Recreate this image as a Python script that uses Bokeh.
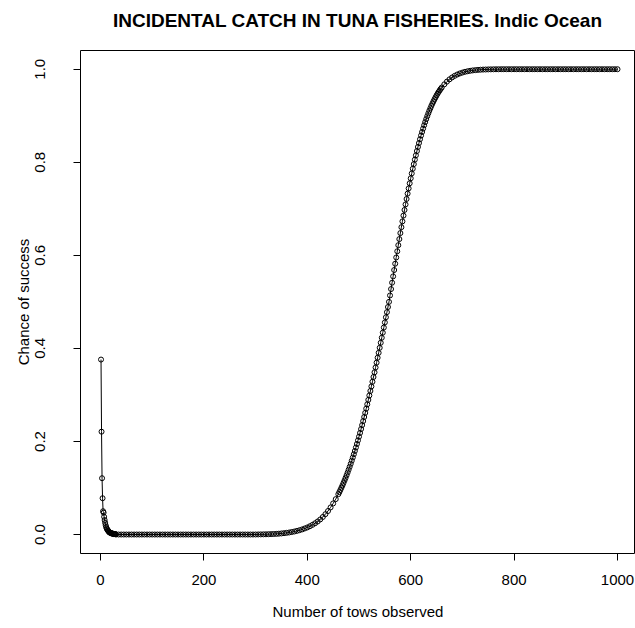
from bokeh.plotting import figure
from bokeh.models import Range1d, FixedTicker, LinearAxis
from bokeh.embed import file_html
from bokeh.resources import INLINE

# ---- data ----
tows_start = [1, 2, 3, 4, 5, 6, 7, 8, 9, 10, 11, 12, 13, 14, 15, 16, 17, 18, 19, 20,
              21, 22, 23, 24, 25, 26, 27, 28, 29, 30]
chance_start = [0.376, 0.221, 0.121, 0.078, 0.050, 0.047, 0.038, 0.031, 0.025, 0.020,
                0.016, 0.013, 0.011, 0.009, 0.008, 0.006, 0.005, 0.004, 0.004, 0.003,
                0.003, 0.002, 0.002, 0.002, 0.001, 0.001, 0.001, 0.001, 0.001, 0.0]

tows_flat = [35, 40, 45, 50, 55, 60, 65, 70, 75, 80, 85, 90, 95, 100, 105, 110, 115, 120,
             125, 130, 135, 140, 145, 150, 155, 160, 165, 170, 175, 180, 185, 190, 195, 200,
             205, 210, 215, 220, 225, 230, 235, 240, 245, 250, 255, 260, 265, 270, 275, 280,
             285, 290, 295, 300]
chance_flat = [0.0, 0.0, 0.0, 0.0, 0.0, 0.0, 0.0, 0.0, 0.0, 0.0, 0.0, 0.0, 0.0, 0.0, 0.0,
               0.0, 0.0, 0.0, 0.0, 0.0, 0.0, 0.0, 0.0, 0.0, 0.0, 0.0, 0.0, 0.0, 0.0, 0.0,
               0.0, 0.0, 0.0, 0.0, 0.0, 0.0, 0.0, 0.0, 0.0, 0.0, 0.0, 0.0, 0.0, 0.0, 0.0,
               0.0, 0.0, 0.0, 0.0, 0.0, 0.0, 0.0, 0.0, 0.0001]

tows_rise = [305, 310, 315, 320, 325, 330, 335, 340, 345, 350, 355, 360, 365, 370, 375,
             380, 385, 390, 395, 400, 405, 410, 415, 420, 425, 430, 435, 440, 445, 450, 455]
chance_rise = [0.0002, 0.0003, 0.0004, 0.0005, 0.0007, 0.0009, 0.0011, 0.0014, 0.0018,
               0.0023, 0.0029, 0.0036, 0.0044, 0.0054, 0.0065, 0.0078, 0.0093, 0.0110,
               0.0130, 0.0152, 0.0178, 0.0208, 0.0242, 0.0280, 0.0324, 0.0377, 0.0437,
               0.0505, 0.0582, 0.0668, 0.0760]

tows_steep = [460, 462, 464, 466, 468, 470, 472, 474, 476, 478, 480, 482, 484, 486, 488,
              490, 492, 494, 496, 498, 500, 502, 504, 506, 508, 510, 512, 514, 516, 518,
              520, 522, 524, 526, 528, 530, 532, 534, 536, 538, 540, 542, 544, 546, 548,
              550, 552, 554, 556, 558, 560, 562, 564, 566, 568, 570, 572, 574, 576, 578,
              580, 582, 584, 586, 588, 590, 592, 594, 596, 598, 600, 602, 604, 606, 608,
              610, 612, 614, 616, 618, 620, 622, 624, 626, 628, 630, 632, 634, 636, 638,
              640, 642, 644, 646, 648, 650, 652, 654, 656, 658, 660]
chance_steep = [0.0867, 0.0912, 0.0958, 0.1006, 0.1056, 0.1108, 0.1162, 0.1216, 0.1274,
                0.1333, 0.1394, 0.1456, 0.1520, 0.1587, 0.1655, 0.1725, 0.1796, 0.1870,
                0.1946, 0.2023, 0.2102, 0.2183, 0.2266, 0.2351, 0.2437, 0.2525, 0.2614,
                0.2706, 0.2798, 0.2893, 0.2988, 0.3085, 0.3183, 0.3283, 0.3385, 0.3486,
                0.3590, 0.3694, 0.3799, 0.3905, 0.4013, 0.4121, 0.4229, 0.4338, 0.4448,
                0.4558, 0.4669, 0.4779, 0.4889, 0.5000, 0.5138, 0.5275, 0.5412, 0.5548,
                0.5684, 0.5820, 0.5954, 0.6087, 0.6218, 0.6349, 0.6478, 0.6605, 0.6730,
                0.6854, 0.6975, 0.7094, 0.7211, 0.7326, 0.7438, 0.7548, 0.7655, 0.7760,
                0.7861, 0.7960, 0.8057, 0.8150, 0.8241, 0.8329, 0.8413, 0.8495, 0.8575,
                0.8651, 0.8724, 0.8795, 0.8863, 0.8928, 0.8990, 0.9050, 0.9107, 0.9161,
                0.9213, 0.9262, 0.9309, 0.9354, 0.9396, 0.9437, 0.9475, 0.9511, 0.9545,
                0.9577, 0.9607]

tows_top = [665, 670, 675, 680, 685, 690, 695, 700, 705, 710, 715, 720, 725, 730, 735,
            740, 745, 750, 755, 760, 765, 770, 775, 780, 785, 790, 795, 800, 805, 810,
            815, 820, 825, 830, 835, 840, 845, 850, 855, 860, 865, 870, 875, 880, 885,
            890, 895, 900, 905, 910, 915, 920, 925, 930, 935, 940, 945, 950, 955, 960,
            965, 970, 975, 980, 985, 990, 995, 1000]
chance_top = [0.9675, 0.9733, 0.9782, 0.9823, 0.9857, 0.9886, 0.9909, 0.9928, 0.9944,
              0.9956, 0.9966, 0.9974, 0.9980, 0.9985, 0.9989, 0.9992, 0.9994, 0.9996,
              0.9997, 0.9998, 0.9999, 0.9999, 1.0, 1.0, 1.0, 1.0, 1.0, 1.0, 1.0, 1.0,
              1.0, 1.0, 1.0, 1.0, 1.0, 1.0, 1.0, 1.0, 1.0, 1.0, 1.0, 1.0, 1.0, 1.0, 1.0,
              1.0, 1.0, 1.0, 1.0, 1.0, 1.0, 1.0, 1.0, 1.0, 1.0, 1.0, 1.0, 1.0, 1.0, 1.0,
              1.0, 1.0, 1.0, 1.0, 1.0, 1.0, 1.0, 1.0]

x_ticks = [0, 200, 400, 600, 800, 1000]
x_tick_labels = ["0", "200", "400", "600", "800", "1000"]
y_ticks = [0.0, 0.2, 0.4, 0.6, 0.8, 1.0]
y_tick_labels = ["0.0", "0.2", "0.4", "0.6", "0.8", "1.0"]

title_text = "INCIDENTAL CATCH IN TUNA FISHERIES. Indic Ocean"
x_label = "Number of tows observed"
y_label = "Chance of success"

tows = tows_start + tows_flat + tows_rise + tows_steep + tows_top
chance = chance_start + chance_flat + chance_rise + chance_steep + chance_top

FONT = "Liberation Sans"

p = figure(width=635, height=628, output_backend="svg", toolbar_location=None,
           x_range=Range1d(-38.7, 1034.8), y_range=Range1d(-0.0408, 1.0402),
           min_border_left=80, min_border_right=0, min_border_top=50,
           min_border_bottom=75)
p.background_fill_color = "white"
p.border_fill_color = "white"
p.outline_line_color = "black"
p.outline_line_width = 1
p.xgrid.visible = False
p.ygrid.visible = False
p.title.visible = False

bottom_axis = p.below[0]
left_axis = p.left[0]

for ax, ticks, labels in ((bottom_axis, x_ticks, x_tick_labels),
                          (left_axis, y_ticks, y_tick_labels)):
    ax.ticker = FixedTicker(ticks=ticks)
    ax.major_label_overrides = {t: l for t, l in zip(ticks, labels)}
    ax.minor_tick_line_color = None
    ax.axis_line_color = None
    ax.major_tick_in = 0
    ax.major_tick_out = 7
    ax.major_tick_line_color = "black"
    ax.major_label_text_font = FONT
    ax.major_label_text_font_size = "15px"
    ax.major_label_text_color = "black"
    ax.axis_label_text_font = FONT
    ax.axis_label_text_font_size = "15px"
    ax.axis_label_text_font_style = "normal"
    ax.axis_label_text_color = "black"

bottom_axis.axis_label = x_label
left_axis.axis_label = y_label
left_axis.major_label_orientation = "vertical"
bottom_axis.major_label_standoff = 14
bottom_axis.axis_label_standoff = 15
left_axis.major_label_standoff = 28
left_axis.axis_label_standoff = 1

# main title: label of a tick-less axis above the frame, centred over the plot region
title_axis = LinearAxis(axis_label=title_text, ticker=FixedTicker(ticks=[]),
                        axis_line_color=None, major_tick_line_color=None,
                        minor_tick_line_color=None, major_tick_out=0,
                        major_tick_in=0, major_label_standoff=0,
                        axis_label_standoff=20,
                        axis_label_text_font=FONT,
                        axis_label_text_font_size="19px",
                        axis_label_text_font_style="bold",
                        axis_label_text_color="black")
p.add_layout(title_axis, "above")

p.line(tows, chance, line_color="black", line_width=1)
p.scatter(tows, chance, marker="circle", size=5, fill_color=None,
          line_color="black", line_width=1)

open("out.html", "w").write(file_html(p, INLINE))
